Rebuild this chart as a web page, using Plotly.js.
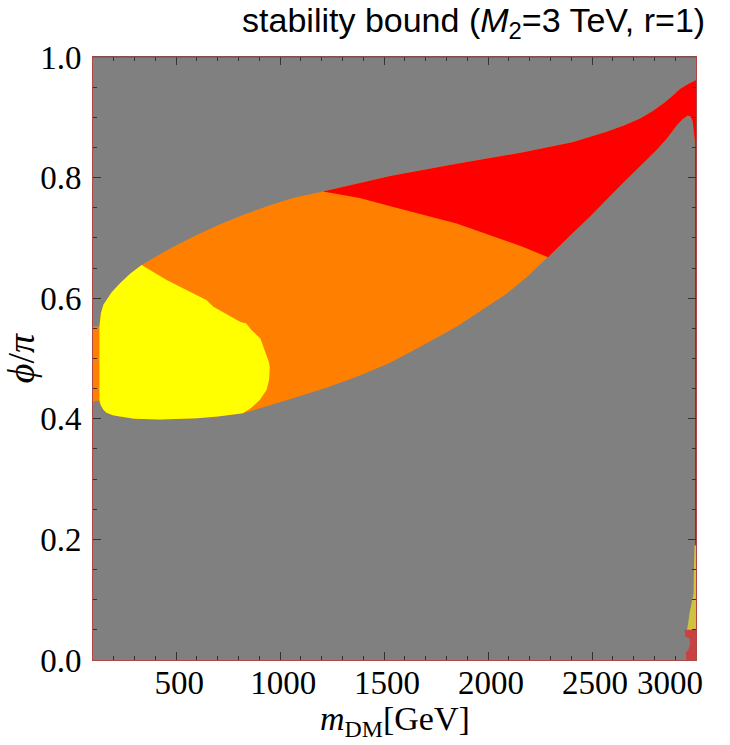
<!DOCTYPE html>
<html>
<head>
<meta charset="utf-8">
<script src="https://cdn.plot.ly/plotly-3.0.1.min.js"></script>
<style>html,body{margin:0;padding:0;background:#fff;}#chart{width:730px;height:745px;}</style>
</head>
<body>
<div id="chart"></div>
<script>
// ---- data (m_DM in GeV, phi/pi) ----
// upper edge of the allowed lens, left to right
const upperX = [100, 131, 138, 150, 190, 230, 280, 334, 453, 581, 700, 821, 940, 1062, 1206, 1383, 1535, 1849, 2169, 2410, 2490, 2570, 2650, 2731, 2790, 2843, 2885, 2923, 2960, 2987, 3000];
const upperY = [0.553, 0.553, 0.575, 0.589, 0.610, 0.625, 0.641, 0.655, 0.679, 0.702, 0.721, 0.738, 0.753, 0.766, 0.777, 0.791, 0.803, 0.823, 0.842, 0.859, 0.867, 0.876, 0.886, 0.898, 0.910, 0.923, 0.935, 0.947, 0.955, 0.960, 0.962];
// lower edge of the allowed lens, right to left
const lowerX = [3000, 3000, 2995, 2995, 2989, 2988, 2984, 2975, 2961, 2937, 2908, 2860, 2812, 2731, 2649, 2572, 2490, 2389, 2288, 2192, 2091, 1971, 1850, 1687, 1528, 1384, 1225, 1023, 821, 700, 600, 421, 300, 230, 196, 165, 150, 138, 128, 115, 100];
const lowerY = [0.190, 0.190, 0.190, 0.860, 0.873, 0.880, 0.893, 0.901, 0.903, 0.897, 0.887, 0.865, 0.846, 0.819, 0.791, 0.764, 0.735, 0.702, 0.668, 0.637, 0.608, 0.580, 0.553, 0.522, 0.493, 0.472, 0.452, 0.430, 0.409, 0.404, 0.401, 0.399, 0.400, 0.404, 0.406, 0.410, 0.415, 0.422, 0.430, 0.430, 0.428];
// orange / red divider, left to right
const dividerX = [1206, 1383, 1535, 1849, 2169, 2288];
const dividerY = [0.777, 0.766, 0.752, 0.724, 0.685, 0.668];
// yellow island
const yellowX = [131, 130, 131, 138, 150, 190, 230, 280, 334, 454, 582, 645, 679, 709, 789, 807, 837, 863, 905, 925, 945, 950, 947, 935, 902, 860, 821, 700, 600, 421, 300, 230, 196, 165, 150, 138];
const yellowY = [0.431, 0.480, 0.553, 0.575, 0.589, 0.610, 0.625, 0.641, 0.655, 0.630, 0.608, 0.597, 0.586, 0.580, 0.564, 0.561, 0.558, 0.547, 0.533, 0.515, 0.495, 0.486, 0.465, 0.448, 0.431, 0.418, 0.409, 0.404, 0.401, 0.399, 0.400, 0.404, 0.406, 0.410, 0.415, 0.422];
// small patches at the lower right corner
const oliveX = [2993, 3000, 3000, 2956, 2962, 2970, 2982, 2988, 2990];
const oliveY = [0.190, 0.190, 0.050, 0.048, 0.060, 0.080, 0.100, 0.110, 0.150];
const redLowX = [2945, 3000, 3000, 2954, 2950, 2962, 2972, 2968, 2950];
const redLowY = [0.050, 0.050, 0.000, 0.000, 0.012, 0.016, 0.026, 0.036, 0.038];

const xTicks = [500, 1000, 1500, 2000, 2500, 3000];
const yTicks = [0.0, 0.2, 0.4, 0.6, 0.8, 1.0];

// ---- build polygons ----
const lensX = upperX.concat(lowerX);
const lensY = upperY.concat(lowerY);

const xSplit = dividerX[0], xTip = dividerX[dividerX.length - 1];
const redX = [], redY = [];
upperX.forEach((x, i) => { if (x >= xSplit) { redX.push(x); redY.push(upperY[i]); } });
lowerX.forEach((x, i) => { if (x >= xTip) { redX.push(x); redY.push(lowerY[i]); } });
for (let i = dividerX.length - 1; i >= 0; i--) { redX.push(dividerX[i]); redY.push(dividerY[i]); }

function poly(x, y, color, xa) {
  return { type: 'scatter', mode: 'lines', x: x, y: y, fill: 'toself', fillcolor: color,
           line: { width: 0, color: color }, hoverinfo: 'skip', showlegend: false, xaxis: xa || 'x' };
}

const traces = [
  poly(lensX, lensY, '#ff8000'),
  poly(redX, redY, '#ff0000'),
  poly(yellowX, yellowY, '#ffff00'),
  poly(oliveX, oliveY, '#cfc23f', 'x2'),
  poly(redLowX, redLowY, '#c84242', 'x3')
];

const lastTick = xTicks[xTicks.length - 1];
const serif = 'Liberation Serif, Times New Roman, serif';
const tickFont = { family: serif, size: 33, color: '#000' };
function labelAxis(vals, shift) {
  return { overlaying: 'x', anchor: 'y', side: 'bottom', range: [100, 3000],
           tickvals: vals, ticktext: vals.map(String), ticks: '', ticklabelshift: shift,
           ticklabeloverflow: 'allow', showline: false, showgrid: false, zeroline: false,
           tickfont: tickFont, ticklabelstandoff: 0 };
}
const layout = {
  width: 730, height: 745,
  margin: { l: 93, r: 34, t: 57, b: 85, pad: 0 },
  paper_bgcolor: '#ffffff', plot_bgcolor: '#808080',
  showlegend: false,
  title: { text: 'stability bound (<i>M</i><sub>2</sub>=3 TeV, r=1)',
           font: { family: 'Liberation Sans, Arial, sans-serif', size: 34, color: '#000' },
           xref: 'container', x: 0.966, xanchor: 'right', yref: 'container', y: 0.973, yanchor: 'middle' },
  // frame + ticks
  xaxis: {
    range: [100, 3000], tickvals: xTicks, showticklabels: false,
    ticks: 'inside', ticklen: 8, tickwidth: 1, tickcolor: '#333',
    minor: { dtick: 100, tick0: 0, ticks: 'inside', ticklen: 4, tickcolor: '#333', showgrid: false },
    showline: true, linecolor: '#b04848', linewidth: 1, mirror: 'ticks',
    showgrid: false, zeroline: false
  },
  // tick labels (the last one is moved inside the figure edge, as in the reference)
  xaxis2: labelAxis(xTicks.slice(0, -1), 3),
  xaxis3: labelAxis([lastTick], -26),
  yaxis: {
    range: [0, 1], tickvals: yTicks, ticktext: yTicks.map(v => v.toFixed(1)),
    ticks: 'inside', ticklen: 8, tickwidth: 1, tickcolor: '#333',
    minor: { dtick: 0.05, tick0: 0, ticks: 'inside', ticklen: 4, tickcolor: '#333', showgrid: false },
    showline: true, linecolor: '#b04848', linewidth: 1, mirror: 'ticks',
    showgrid: false, zeroline: false,
    tickfont: tickFont, ticklabelstandoff: 4,
    title: { text: '<i>ϕ</i>/<i>π</i>', font: { family: serif, size: 38, color: '#000' }, standoff: 10 }
  },
  annotations: [
    { text: '<i>m</i><sub>DM</sub>[GeV]', xref: 'paper', yref: 'paper', x: 0.5, y: -0.101,
      xanchor: 'center', yanchor: 'middle', showarrow: false,
      font: { family: serif, size: 34, color: '#000' } }
  ],
  shapes: [
    { type: 'line', xref: 'paper', yref: 'paper', x0: 0, x1: 1, y0: 1, y1: 1,
      line: { color: '#555', width: 1 } }
  ]
};

Plotly.newPlot('chart', traces, layout, { staticPlot: true, displayModeBar: false });
</script>
</body>
</html>
